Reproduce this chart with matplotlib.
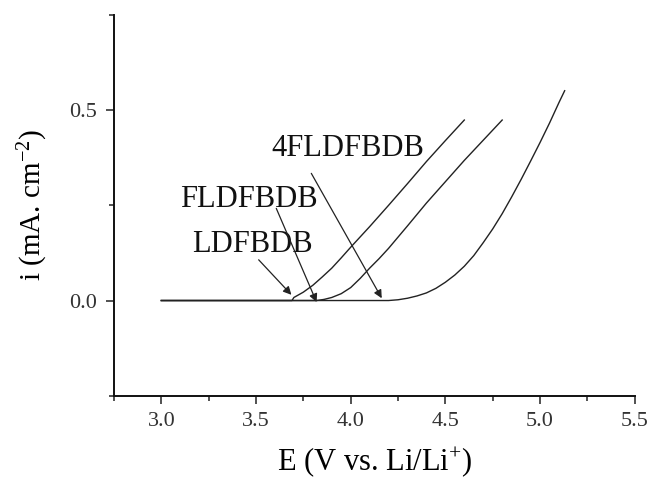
import matplotlib
matplotlib.use("Agg")
import matplotlib.pyplot as plt
from matplotlib.ticker import MultipleLocator

plt.rcParams['font.family'] = ['Liberation Serif', 'DejaVu Serif']
plt.rcParams['mathtext.fontset'] = 'custom'
plt.rcParams['mathtext.rm'] = 'Liberation Serif'
plt.rcParams['mathtext.it'] = 'Liberation Serif:italic'

# Data
e_ldfbdb = [3.0, 3.69, 3.70, 3.75, 3.8, 3.85, 3.9, 3.95, 4.0, 4.1, 4.2, 4.3, 4.4, 4.5, 4.6]
i_ldfbdb = [0.0, 0.0, 0.008, 0.022, 0.04, 0.062, 0.085, 0.112, 0.14, 0.194, 0.25, 0.307, 0.365, 0.42, 0.474]

e_fldfbdb = [3.0, 3.82, 3.86, 3.9, 3.95, 4.0, 4.05, 4.1, 4.15, 4.2, 4.3, 4.4, 4.5, 4.6, 4.7, 4.8]
i_fldfbdb = [0.0, 0.0, 0.003, 0.008, 0.018, 0.034, 0.058, 0.085, 0.11, 0.137, 0.196, 0.256, 0.312, 0.368, 0.421, 0.474]

e_4fldfbdb = [3.0, 4.2, 4.25, 4.3, 4.35, 4.4, 4.45, 4.5, 4.55, 4.6, 4.65, 4.7, 4.75,
              4.8, 4.85, 4.9, 4.95, 5.0, 5.05, 5.1, 5.13]
i_4fldfbdb = [0.0, 0.0, 0.002, 0.006, 0.012, 0.02, 0.032, 0.048, 0.067, 0.09, 0.118, 0.152, 0.188,
              0.228, 0.272, 0.318, 0.366, 0.415, 0.466, 0.52, 0.551]

labels = ["LDFBDB", "FLDFBDB", "4FLDFBDB"]
label_xy = [(3.48, 0.146), (3.46, 0.266), (3.985, 0.40)]
arrow_tail = [(3.514, 0.107), (3.607, 0.242), (3.792, 0.334)]
arrow_head = [(3.687, 0.015), (3.82, -0.004), (4.164, 0.006)]

x_ticks = [3.0, 3.5, 4.0, 4.5, 5.0, 5.5]
y_ticks = [0.0, 0.5]

fig = plt.figure(figsize=(6.51, 4.82), dpi=100)
ax = fig.add_axes([0.1751, 0.179, 0.7999, 0.790])

lc = '#222222'
for e, i in [(e_ldfbdb, i_ldfbdb), (e_fldfbdb, i_fldfbdb), (e_4fldfbdb, i_4fldfbdb)]:
    ax.plot(e, i, color=lc, lw=1.0)

for lab, (tx, ty), (ax0, ay0), (hx, hy) in zip(labels, label_xy, arrow_tail, arrow_head):
    ax.text(tx, ty, lab, fontsize=22, ha='center', va='center', color='#111111')
    ax.annotate('', xy=(hx, hy), xytext=(ax0, ay0),
                arrowprops=dict(arrowstyle='-|>', color=lc, lw=0.9,
                                mutation_scale=12, shrinkA=0, shrinkB=0))

ax.set_xlim(2.75, 5.5)
ax.set_ylim(-0.25, 0.75)
ax.set_xticks(x_ticks)
ax.set_yticks(y_ticks)
ax.xaxis.set_minor_locator(MultipleLocator(0.25))
ax.yaxis.set_minor_locator(MultipleLocator(0.25))
ax.set_xticklabels([f"{v:.1f}" for v in x_ticks])
ax.set_yticklabels([f"{v:.1f}" for v in y_ticks])

for s in ['top', 'right']:
    ax.spines[s].set_visible(False)
for s in ['left', 'bottom']:
    ax.spines[s].set_linewidth(1.4)
    ax.spines[s].set_color('#111111')

ax.tick_params(which='major', direction='out', length=6, width=1.1,
               labelsize=16, labelcolor='#333333', color='#222222', pad=6)
ax.tick_params(which='minor', direction='out', length=3.5, width=1.1, color='#222222')

ax.set_xlabel(r"E (V vs. Li/Li$^{\mathrm{+}}$)", fontsize=22, labelpad=10)
ax.set_ylabel(r"i (mA. cm$^{\mathrm{-2}}$)", fontsize=21, labelpad=14)

fig.savefig("out.png", dpi=100)
